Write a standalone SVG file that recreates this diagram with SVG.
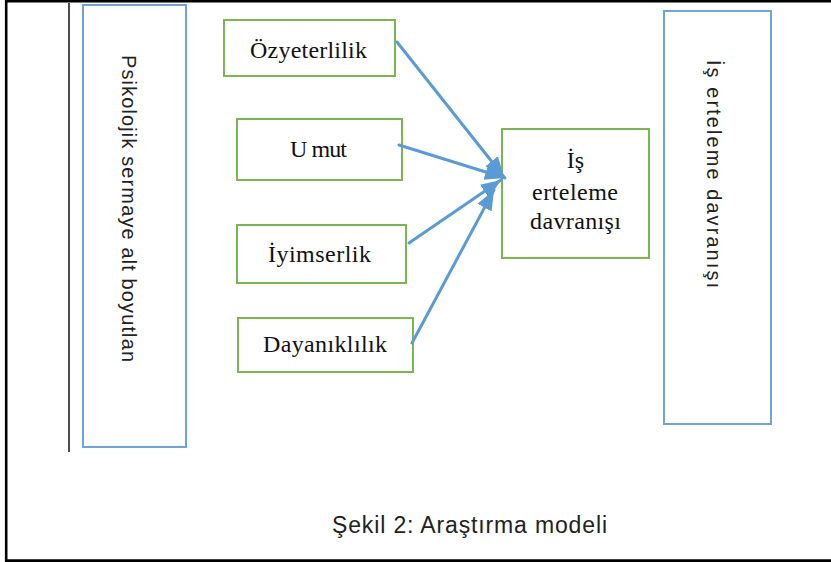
<svg xmlns="http://www.w3.org/2000/svg" width="831" height="562" viewBox="0 0 831 562">
<style>
.frame{fill:none;stroke:#000;stroke-width:2.6}
.blue{fill:#fff;stroke:#6FA4DA;stroke-width:2}
.green{fill:#fff;stroke:#7CB652;stroke-width:2}
.serif{font-family:"Liberation Serif","Times New Roman",serif;font-size:24px;fill:#111}
.sans{font-family:"Liberation Sans",Arial,sans-serif;fill:#222}
.conn{stroke:#5B9BD5;stroke-width:3;fill:none;stroke-linecap:round}
</style>
<defs>
<marker id="ah" markerUnits="userSpaceOnUse" markerWidth="22" markerHeight="22" viewBox="0 0 22 22" refX="20" refY="11" orient="auto">
<path d="M0,3 L20,11 L0,19 Z" fill="#5B9BD5"/>
</marker>
</defs>
<rect width="831" height="562" fill="#fff"/>
<path class="frame" d="M831,1.2 H6.2 V560.6 H831"/>
<line x1="69" y1="3" x2="69" y2="452" stroke="#222" stroke-width="1.6"/>

<g id="psikolojik">
<rect class="blue" x="83" y="5" width="103" height="442"/>
<text class="sans" font-size="20" transform="translate(122,55) rotate(90)" textLength="307" lengthAdjust="spacing">Psikolojik sermaye alt boyutlan</text>
</g>

<g id="is-erteleme-dikey">
<rect class="blue" x="664" y="11" width="107" height="413"/>
<text class="sans" font-size="20" transform="translate(707,60) rotate(90)" textLength="228" lengthAdjust="spacing">İş erteleme davranışı</text>
</g>

<g id="ozyeterlilik">
<rect class="green" x="224" y="20" width="171" height="56"/>
<text class="serif" x="250" y="58" textLength="117" lengthAdjust="spacing">Özyeterlilik</text>
</g>

<g id="umut">
<rect class="green" x="237" y="119" width="165" height="61"/>
<text class="serif" x="290" y="157" textLength="57" lengthAdjust="spacing">U mut</text>
</g>

<g id="iyimserlik">
<rect class="green" x="237" y="225" width="169" height="58"/>
<text class="serif" x="268" y="262" textLength="103" lengthAdjust="spacing">İyimserlik</text>
</g>

<g id="dayaniklilik">
<rect class="green" x="238" y="318" width="175" height="54"/>
<text class="serif" x="263" y="352" textLength="124" lengthAdjust="spacing">Dayanıklılık</text>
</g>

<g id="is-erteleme">
<rect class="green" x="502" y="129" width="147" height="129"/>
<text class="serif" x="575.5" y="168" text-anchor="middle">İş</text>
<text class="serif" x="575" y="200" text-anchor="middle" textLength="86" lengthAdjust="spacing">erteleme</text>
<text class="serif" x="575.5" y="229" text-anchor="middle" textLength="91" lengthAdjust="spacing">davranışı</text>
</g>

<g id="connectors">
<line class="conn" x1="397" y1="42" x2="504" y2="177" marker-end="url(#ah)"/>
<line class="conn" x1="399" y1="145" x2="505" y2="178" stroke-width="4" marker-end="url(#ah)"/>
<line class="conn" x1="409" y1="243" x2="501" y2="180" marker-end="url(#ah)"/>
<line class="conn" x1="412" y1="343" x2="494" y2="190" marker-end="url(#ah)"/>
</g>

<text class="sans" x="332" y="533" font-size="23" textLength="275" lengthAdjust="spacing">Şekil 2: Araştırma modeli</text>
</svg>
